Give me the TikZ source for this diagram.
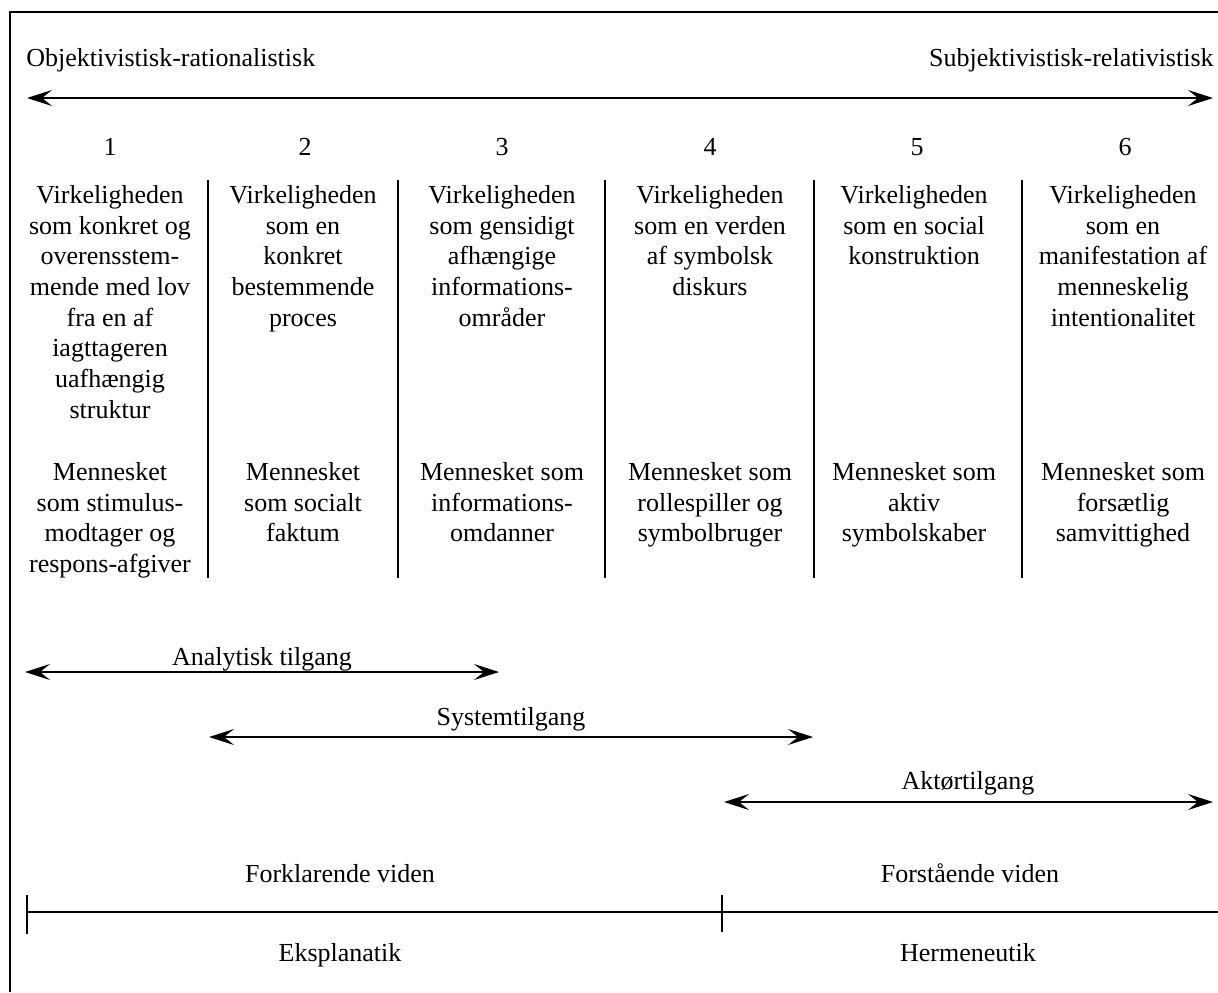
\documentclass[tikz,border=0pt]{standalone}
\usepackage{fontspec}
\setmainfont{Liberation Serif}
\usetikzlibrary{arrows.meta}
\begin{document}
\begin{tikzpicture}[x=0.5pt,y=-0.5pt,
  every node/.style={font=\fontsize{13}{15.35}\selectfont, inner sep=0pt},
  coltext/.style={anchor=north, align=center},
  lbl/.style={anchor=base},
  rule/.style={line width=1pt},
  tip/.tip={Stealth[length=12.5pt,width=8pt,inset=5pt]},
  dbl/.style={line width=1pt, tip-tip}
]
\useasboundingbox (0,0) rectangle (1218,992);
% frame (clipped on right and bottom)
\coordinate (fbl) at (10,992);
\coordinate (ftl) at (10,12);
\coordinate (ftr) at (1218,12);
\draw[rule] (fbl) -- (ftl) -- (ftr);

% top scale
\node[anchor=base west] (obj) at (26,66) {Objektivistisk-rationalistisk};
\node[anchor=base east] (sub) at (1214,66) {Subjektivistisk-relativistisk};
\coordinate (tl) at (27,98);
\coordinate (tr) at (1213,98);
\draw[dbl] (tl) -- (tr);

% column numbers
\node[lbl] (n1) at (110,155) {1};
\node[lbl] (n2) at (305,155) {2};
\node[lbl] (n3) at (502,155) {3};
\node[lbl] (n4) at (710,155) {4};
\node[lbl] (n5) at (917,155) {5};
\node[lbl] (n6) at (1125,155) {6};

% separators
\foreach \x/\n in {208/a,398/b,605/c,814/d,1022/e}{
  \coordinate (s\n t) at (\x,180);
  \coordinate (s\n b) at (\x,578);
  \draw[rule] (s\n t) -- (s\n b);
}

% reality row
\node[coltext] (v1) at (110,185) {Virkeligheden\\som konkret og\\overensstem-\\mende med lov\\fra en af\\iagttageren\\uafhængig\\struktur};
\node[coltext] (v2) at (303,185) {Virkeligheden\\som en\\konkret\\bestemmende\\proces};
\node[coltext] (v3) at (502,185) {Virkeligheden\\som gensidigt\\afhængige\\informations-\\områder};
\node[coltext] (v4) at (710,185) {Virkeligheden\\som en verden\\af symbolsk\\diskurs};
\node[coltext] (v5) at (914,185) {Virkeligheden\\som en social\\konstruktion};
\node[coltext] (v6) at (1123,185) {Virkeligheden\\som en\\manifestation af\\menneskelig\\intentionalitet};

% human row
\node[coltext] (m1) at (110,462) {Mennesket\\som stimulus-\\modtager og\\respons-afgiver};
\node[coltext] (m2) at (303,462) {Mennesket\\som socialt\\faktum};
\node[coltext] (m3) at (502,462) {Mennesket som\\informations-\\omdanner};
\node[coltext] (m4) at (710,462) {Mennesket som\\rollespiller og\\symbolbruger};
\node[coltext] (m5) at (914,462) {Mennesket som\\aktiv\\symbolskaber};
\node[coltext] (m6) at (1123,462) {Mennesket som\\forsætlig\\samvittighed};

% approaches
\coordinate (a1) at (25,672);
\coordinate (a2) at (499,672);
\draw[dbl] (a1) -- (a2);
\node[lbl] (al) at (262,665) {Analytisk tilgang};

\coordinate (b1) at (209,737);
\coordinate (b2) at (813,737);
\draw[dbl] (b1) -- (b2);
\node[lbl] (bl) at (511,725) {Systemtilgang};

\coordinate (c1) at (724,802);
\coordinate (c2) at (1213,802);
\draw[dbl] (c1) -- (c2);
\node[lbl] (cl) at (968,789) {Aktørtilgang};

% knowledge line
\coordinate (k0) at (27,912);
\coordinate (km) at (722,912);
\coordinate (k1) at (1218,912);
\draw[rule] (k0) -- (k1);
\coordinate (t0a) at (27,895);
\coordinate (t0b) at (27,934);
\coordinate (tma) at (722,895);
\coordinate (tmb) at (722,932);
\draw[rule] (t0a) -- (t0b);
\draw[rule] (tma) -- (tmb);

\node[lbl] (fv) at (340,882) {Forklarende viden};
\node[lbl] (sv) at (970,882) {Forstående viden};
\node[lbl] (ek) at (340,961) {Eksplanatik};
\node[lbl] (he) at (968,961) {Hermeneutik};
\end{tikzpicture}
\end{document}
